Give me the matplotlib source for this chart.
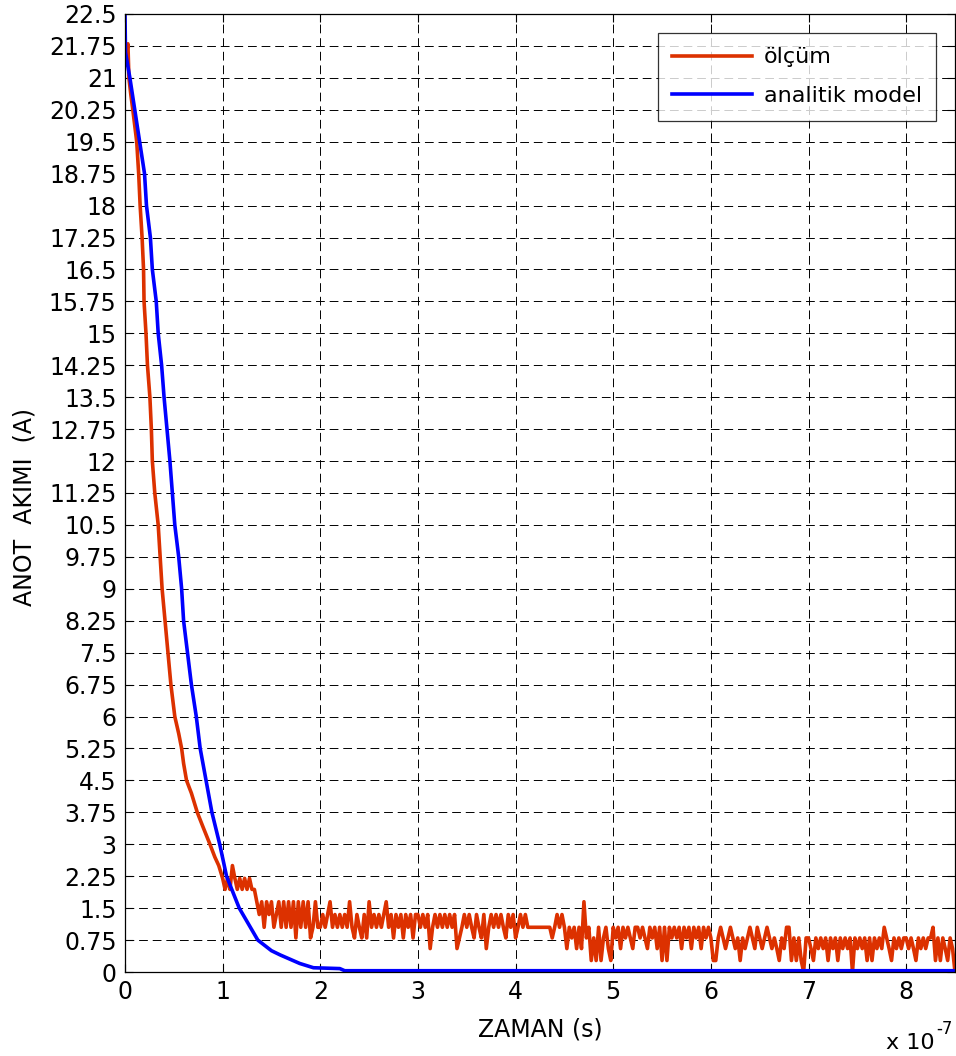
import numpy as np
import matplotlib.pyplot as plt
from matplotlib.ticker import FuncFormatter

# olcum (measurement), smooth falling part, time in units of 1e-7 s
red_t = [0.0, 0.01, 0.03, 0.04, 0.06, 0.08, 0.12, 0.14, 0.155, 0.175, 0.19, 0.195,
         0.215, 0.23, 0.255, 0.27, 0.28, 0.305, 0.34, 0.36, 0.38, 0.41, 0.44, 0.47,
         0.51, 0.55, 0.58, 0.60, 0.63, 0.68, 0.74, 0.80, 0.87, 0.92, 0.96]
red_v = [21.3, 21.5, 21.8, 21.0, 20.6, 20.25, 19.5, 18.75, 18.0, 17.25, 16.5, 15.75,
         15.0, 14.25, 13.5, 12.75, 12.0, 11.25, 10.5, 9.75, 9.0, 8.25, 7.5, 6.75,
         6.0, 5.6, 5.25, 4.9, 4.5, 4.2, 3.75, 3.4, 3.0, 2.7, 2.5]

# olcum noisy tail: quantised levels, sampled every 0.025e-7 s from 1.0e-7 s
levels = [0.0, 0.27, 0.55, 0.8, 1.05, 1.35, 1.65, 1.94, 2.2, 2.5]
tail_t0 = 1.0
tail_dt = 0.025
tail_codes = [
    8, 7, 8, 7, 9, 8, 7, 8, 7, 8, 7, 8, 7, 7, 6, 5, 6, 4, 6, 5, 6, 4, 5, 6, 4, 6, 4, 6, 4, 6, 3, 6, 4, 6, 4, 6, 3, 4, 6, 4,
    4, 5, 4, 5, 6, 4, 5, 4, 5, 4, 5, 4, 6, 4, 3, 5, 4, 3, 5, 3, 6, 4, 5, 4, 5, 4, 5, 6, 4, 5, 3, 5, 4, 5, 3, 5, 4, 5, 3, 5,
    5, 4, 5, 4, 5, 2, 4, 5, 4, 5, 4, 5, 4, 5, 4, 5, 2, 3, 4, 5, 4, 5, 4, 3, 5, 4, 3, 5, 2, 4, 5, 4, 5, 4, 5, 4, 3, 5, 4, 5,
    3, 4, 5, 4, 5, 4, 4, 4, 4, 4, 4, 4, 4, 4, 4, 3, 4, 5, 4, 5, 4, 2, 4, 3, 4, 2, 4, 2, 6, 3, 4, 1, 3, 1, 4, 1, 3, 4, 2, 1,
    4, 3, 4, 2, 4, 3, 4, 3, 2, 4, 4, 3, 4, 3, 2, 4, 3, 4, 2, 4, 1, 4, 1, 4, 3, 4, 3, 4, 2, 4, 3, 4, 2, 4, 3, 4, 2, 4, 3, 4,
    3, 1, 1, 3, 4, 3, 2, 3, 4, 3, 2, 3, 1, 3, 2, 3, 4, 3, 2, 4, 3, 2, 3, 4, 3, 2, 3, 2, 1, 3, 2, 4, 4, 1, 3, 1, 3, 1, 0, 3,
    3, 2, 1, 3, 2, 3, 2, 3, 1, 3, 2, 3, 1, 3, 2, 3, 2, 3, 0, 3, 2, 3, 2, 3, 1, 3, 1, 3, 2, 3, 2, 4, 3, 2, 1, 3, 2, 3, 2, 3,
    3, 2, 3, 2, 1, 3, 2, 3, 2, 3, 3, 4, 1, 3, 1, 3, 2, 1, 3, 2, 0,
]

# analitik model, time in units of 1e-7 s
blue_t = [0.0, 0.005, 0.05, 0.10, 0.15, 0.20, 0.22, 0.26, 0.28, 0.32, 0.34, 0.375,
          0.40, 0.43, 0.46, 0.485, 0.51, 0.55, 0.58, 0.60, 0.64, 0.68, 0.73, 0.77,
          0.83, 0.89, 0.97, 1.04, 1.17, 1.36, 1.50, 1.59, 1.79, 1.93, 2.20, 2.25, 8.5]
blue_v = [22.5, 21.6, 21.0, 20.25, 19.5, 18.75, 18.0, 17.25, 16.5, 15.75, 15.0, 14.25,
          13.5, 12.75, 12.0, 11.25, 10.5, 9.75, 9.0, 8.25, 7.5, 6.75, 6.0, 5.25,
          4.5, 3.75, 3.0, 2.25, 1.5, 0.75, 0.5, 0.4, 0.2, 0.1, 0.08, 0.03, 0.03]

y_ticks = [0, 0.75, 1.5, 2.25, 3, 3.75, 4.5, 5.25, 6, 6.75, 7.5, 8.25, 9, 9.75, 10.5,
           11.25, 12, 12.75, 13.5, 14.25, 15, 15.75, 16.5, 17.25, 18, 18.75, 19.5,
           20.25, 21, 21.75, 22.5]
x_ticks = [0, 1, 2, 3, 4, 5, 6, 7, 8]

scale = 1e-7
tail_t = tail_t0 + tail_dt * np.arange(len(tail_codes))
tail_v = [levels[c] for c in tail_codes]
meas_t = np.concatenate([red_t, tail_t]) * scale
meas_v = np.concatenate([red_v, tail_v])

plt.rcParams['font.family'] = ['DejaVu Sans']

fig = plt.figure(figsize=(9.56, 10.56), dpi=100)
ax = fig.add_axes([125 / 956, 1 - 972 / 1056, 830 / 956, 958 / 1056])

ax.plot(meas_t, meas_v, color='#dc3100', lw=2.6, label='ölçüm')
ax.plot(np.array(blue_t) * scale, blue_v, color='#0000ff', lw=2.6, label='analitik model')

ax.set_xlim(0, 8.5 * scale)
ax.set_ylim(0, 22.5)
ax.set_yticks(y_ticks)
ax.set_xticks(np.array(x_ticks) * scale)
ax.yaxis.set_major_formatter(FuncFormatter(lambda v, p: f"{v:g}"))
ax.xaxis.set_major_formatter(FuncFormatter(lambda v, p: f"{v / scale:.0f}"))
ax.tick_params(direction='in', top=True, right=True, length=6, width=0.8,
               labelsize=17, pad=6)
ax.grid(True, color='black', lw=0.7, ls=(0, (9, 5)))
for s in ax.spines.values():
    s.set_linewidth(0.9)

ax.set_xlabel('ZAMAN (s)', fontsize=17)
ax.set_ylabel('ANOT  AKIMI  (A)', fontsize=17)
ax.xaxis.set_label_coords(0.5, -0.048)
ax.yaxis.set_label_coords(-0.107, 0.485)
fig.text(886 / 956, 1 - 1049 / 1056, 'x 10', fontsize=16, va='baseline')
fig.text(936 / 956, 1 - 1034 / 1056, '-7', fontsize=12, va='baseline')

leg = ax.legend(loc='upper right', fontsize=16, frameon=True, fancybox=False,
                edgecolor='black', borderaxespad=0.85, handlelength=3.6,
                handletextpad=0.5, labelspacing=0.85, borderpad=0.65)
leg.get_frame().set_linewidth(0.9)

fig.savefig('out.png', dpi=100)
